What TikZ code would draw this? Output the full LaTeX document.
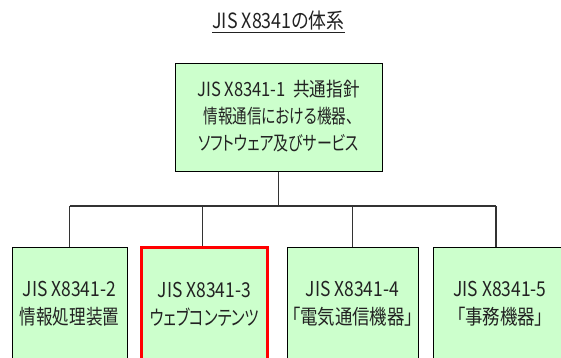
\documentclass[tikz,border=0pt]{standalone}
\usepackage{graphicx}
\usepackage{fontspec}
\setmainfont{Noto Sans CJK JP}[FakeStretch=0.85,RawFeature={+palt}]
\definecolor{boxgreen}{HTML}{CCFFCC}
\definecolor{txt}{HTML}{222222}
\definecolor{wire}{HTML}{333333}
\newcommand{\narrowline}[2]{\scalebox{#1}[1]{#2}}
\begin{document}
\begin{tikzpicture}[x=1pt,y=-1pt,
  box/.style={draw=black,line width=1pt,fill=boxgreen,inner sep=0pt},
  redbox/.style={box,draw=red,line width=3pt},
  boxtext/.style={text=txt,align=center,inner sep=0pt,font=\fontsize{20.5}{28}\selectfont},
  toptext/.style={boxtext,font=\fontsize{19.5}{27}\selectfont},
  wire/.style={draw=wire,line width=1.3pt}]
\useasboundingbox (0,0) rectangle (561,357);
\clip (0,0) rectangle (561,357);
\fill[white] (0,0) rectangle (561,357);
\node[text=txt,font=\fontsize{21}{24}\selectfont,inner sep=0pt] (title) at (278.5,22) {\underline{JIS X8341の体系}};
\node[box,minimum width=207pt,minimum height=108pt] (top) at (278.5,117) {};
\node[toptext] (toptxt) at ([yshift=1pt]top.center) {JIS X8341-1\ \ 共通指針\\\narrowline{0.88}{情報通信における機器、}\\\narrowline{0.9}{ソフトウェア及びサービス}};
\coordinate (bus) at (278.5,206);
\node[box,minimum width=115pt,minimum height=114pt] (b1) at (69.5,304) {};
\node[redbox,minimum width=126pt,minimum height=114pt] (b2) at (204.5,304) {};
\node[box,minimum width=131pt,minimum height=114pt] (b3) at (352.5,304) {};
\node[box,minimum width=134pt,minimum height=114pt] (b4) at (500,304) {};
\node[boxtext] (t1) at (b1.center) {JIS X8341-2\\\narrowline{0.95}{情報処理装置}};
\node[boxtext] (t2) at (b2.center) {JIS X8341-3\\\narrowline{0.88}{ウェブコンテンツ}};
\node[boxtext] (t3) at (b3.center) {JIS X8341-4\\「電気通信機器」};
\node[boxtext] (t4) at (b4.center) {JIS X8341-5\\「事務機器」};
\draw[wire] (top.south) -- (bus);
\draw[wire] (b1.north |- bus) -- ([xshift=-4pt]b4.north |- bus);
\draw[wire] (b1.north |- bus) -- (b1.north);
\draw[wire] ([xshift=-2pt]b2.north |- bus) -- ([xshift=-2pt]b2.north);
\draw[wire] (b3.north |- bus) -- (b3.north);
\draw[wire] ([xshift=-4pt]b4.north |- bus) -- ([xshift=-4pt]b4.north);
\end{tikzpicture}
\end{document}
